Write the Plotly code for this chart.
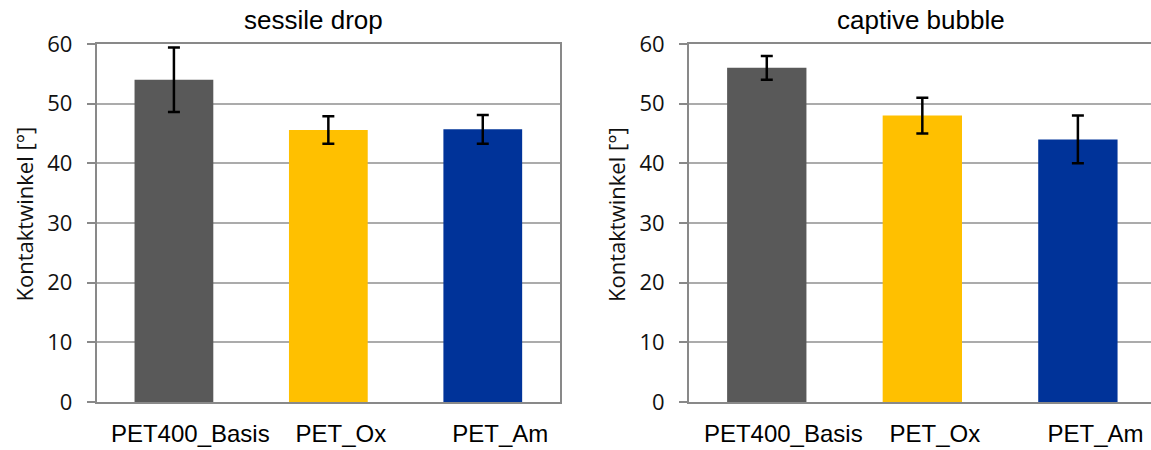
import plotly.graph_objects as go

# Contact angle measurements (degrees) for three PET surface treatments
categories = ["PET400_Basis", "PET_Ox", "PET_Am"]
bar_colors = ["#595959", "#FFC000", "#003399"]

sessile_values = [54.0, 45.6, 45.7]
sessile_errors = [5.4, 2.3, 2.4]

captive_values = [56.0, 48.0, 44.0]
captive_errors = [2.0, 3.0, 4.0]

y_ticks = [0, 10, 20, 30, 40, 50, 60]
y_title = "Kontaktwinkel [°]"
panel_titles = ["sessile drop", "captive bubble"]

W, H = 1151, 450
TOP, BOTTOM = 44, 48
plot_h = H - TOP - BOTTOM
positions = list(range(len(categories)))
# category labels sit slightly right of the bar centres
label_shift = [0.106, 0.081, 0.113]
label_pos = [p + s for p, s in zip(positions, label_shift)]

AXIS_GREY = "#898989"
GRID_GREY = "#ABABAB"
NUM_FONT = dict(family="Open Sans", size=22, color="#111111")
TXT_FONT = dict(family="Liberation Sans, Arial", size=24, color="#000000")
TITLE_FONT = dict(family="Liberation Sans, Arial", size=26, color="#000000")

fig = go.Figure()

fig.add_trace(go.Bar(
    x=positions, y=sessile_values, width=0.51,
    marker=dict(color=bar_colors, line=dict(width=0)),
    error_y=dict(type="data", array=sessile_errors, visible=True,
                 color="#000000", thickness=2.5, width=6),
    xaxis="x", yaxis="y", showlegend=False,
))
fig.add_trace(go.Bar(
    x=positions, y=captive_values, width=0.51,
    marker=dict(color=bar_colors, line=dict(width=0)),
    error_y=dict(type="data", array=captive_errors, visible=True,
                 color="#000000", thickness=2.5, width=6),
    xaxis="x2", yaxis="y2", showlegend=False,
))

def x_axis(domain, rng, anchor):
    return dict(
        domain=domain, range=rng, anchor=anchor,
        tickmode="array", tickvals=label_pos, ticktext=categories,
        tickfont=TXT_FONT, ticks="", ticklabelstandoff=9,
        showgrid=False, zeroline=False, automargin=False,
        showline=True, linecolor=AXIS_GREY, linewidth=2, mirror=True,
        fixedrange=True,
    )

def y_axis(anchor, mirror):
    return dict(
        anchor=anchor, domain=[0, 1], range=[0, 60],
        tickmode="array", tickvals=y_ticks,
        tickfont=NUM_FONT, ticks="outside", ticklen=8,
        tickcolor=AXIS_GREY, tickwidth=2, ticklabelstandoff=10,
        showgrid=True, gridcolor=GRID_GREY, gridwidth=2,
        zeroline=False, automargin=False,
        showline=True, linecolor=AXIS_GREY, linewidth=2, mirror=mirror,
        fixedrange=True,
    )

def px_to_paper_y(py):
    # pixel row measured from the top of the figure -> paper coordinate
    return 1 + (TOP - py) / plot_h

annotations = []
for text, cx in zip(panel_titles, [313, 920.5]):
    annotations.append(dict(
        text=text, x=cx / W, y=px_to_paper_y(20),
        xref="paper", yref="paper", xanchor="center", yanchor="middle",
        showarrow=False, font=TITLE_FONT))
for cx in [23, 615.5]:
    annotations.append(dict(
        text=y_title, textangle=-90, x=cx / W, y=px_to_paper_y(214.5),
        xref="paper", yref="paper", xanchor="center", yanchor="middle",
        showarrow=False, font=NUM_FONT))

fig.update_layout(
    width=W, height=H,
    margin=dict(l=0, r=0, t=TOP, b=BOTTOM, autoexpand=False),
    paper_bgcolor="white", plot_bgcolor="white",
    xaxis=x_axis([96.7 / W, 560 / W], [-0.5, 2.5], "y"),
    yaxis=y_axis("x", True),
    xaxis2=x_axis([689 / W, 1.0], [-0.5, 2.47], "y2"),
    yaxis2=y_axis("x2", False),
    annotations=annotations,
)

fig.write_html("out.html", config={"displayModeBar": False})
